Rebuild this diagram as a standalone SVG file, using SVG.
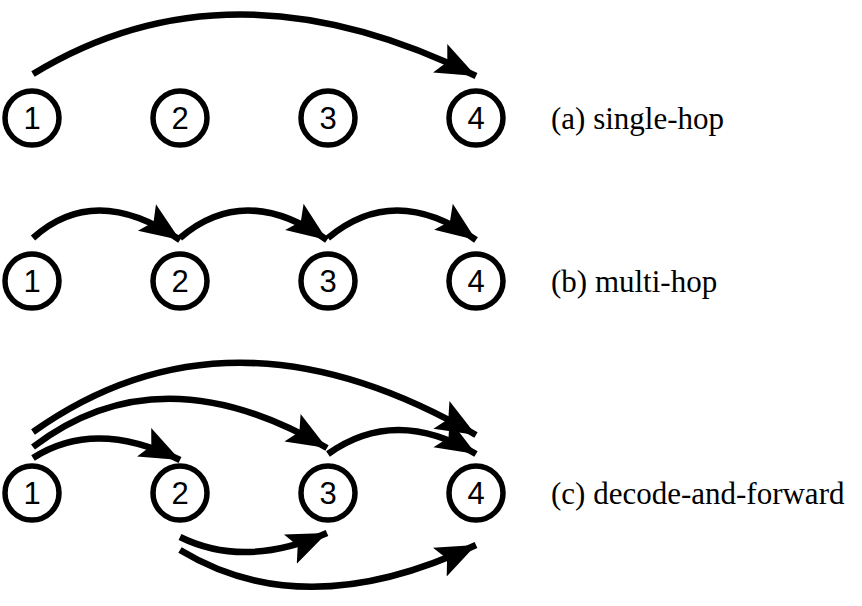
<svg xmlns="http://www.w3.org/2000/svg" width="862" height="606" viewBox="0 0 862 606">
<style>
.n circle{fill:#fff;stroke:#000;stroke-width:5.5}
.n text{font-family:'Liberation Sans',Arial,sans-serif;font-size:31px;text-anchor:middle}
.lbl{font-family:'Liberation Serif','DejaVu Serif',serif;font-size:31px}
#edges path{fill:none;stroke:#000;stroke-width:6.5;marker-end:url(#ah)}
</style>
<defs>
<marker id="ah" markerUnits="userSpaceOnUse" markerWidth="46" markerHeight="34" refX="40" refY="16" orient="auto" viewBox="0 0 46 32">
<path d="M0,0 L40,16 L0,32 L8,16 Z" fill="#000"/>
</marker>
</defs>
<rect width="862" height="606" fill="#fff"/>
<g id="edges">
<path d="M33,74 Q230,-46 476,76"/>
<path d="M33,238 Q95,182 180,240"/>
<path d="M180,238 Q245,182 327,240"/>
<path d="M328,238 Q395,182 476,240"/>
<path d="M33,458 Q95,418 180,460"/>
<path d="M33,447 Q160,350 327,448"/>
<path d="M33,432 Q230,292 476,435"/>
<path d="M328,454 Q395,406 476,454"/>
<path d="M180,537 Q245,569 327,533"/>
<path d="M180,550 Q305,626 476,545"/>
</g>
<g id="n1a" class="n"><circle cx="32" cy="118" r="27"/><text x="32" y="129">1</text></g>
<g id="n2a" class="n"><circle cx="180" cy="118" r="27"/><text x="180" y="129">2</text></g>
<g id="n3a" class="n"><circle cx="328" cy="118" r="27"/><text x="328" y="129">3</text></g>
<g id="n4a" class="n"><circle cx="476" cy="118" r="27"/><text x="476" y="129">4</text></g>
<g id="n1b" class="n"><circle cx="32" cy="281" r="27"/><text x="32" y="292">1</text></g>
<g id="n2b" class="n"><circle cx="180" cy="281" r="27"/><text x="180" y="292">2</text></g>
<g id="n3b" class="n"><circle cx="328" cy="281" r="27"/><text x="328" y="292">3</text></g>
<g id="n4b" class="n"><circle cx="476" cy="281" r="27"/><text x="476" y="292">4</text></g>
<g id="n1c" class="n"><circle cx="32" cy="493" r="27"/><text x="32" y="504">1</text></g>
<g id="n2c" class="n"><circle cx="180" cy="493" r="27"/><text x="180" y="504">2</text></g>
<g id="n3c" class="n"><circle cx="328" cy="493" r="27"/><text x="328" y="504">3</text></g>
<g id="n4c" class="n"><circle cx="476" cy="493" r="27"/><text x="476" y="504">4</text></g>
<text class="lbl" x="551" y="129">(a) single-hop</text>
<text class="lbl" x="551" y="292">(b) multi-hop</text>
<text class="lbl" x="551" y="504">(c) decode-and-forward</text>
</svg>
